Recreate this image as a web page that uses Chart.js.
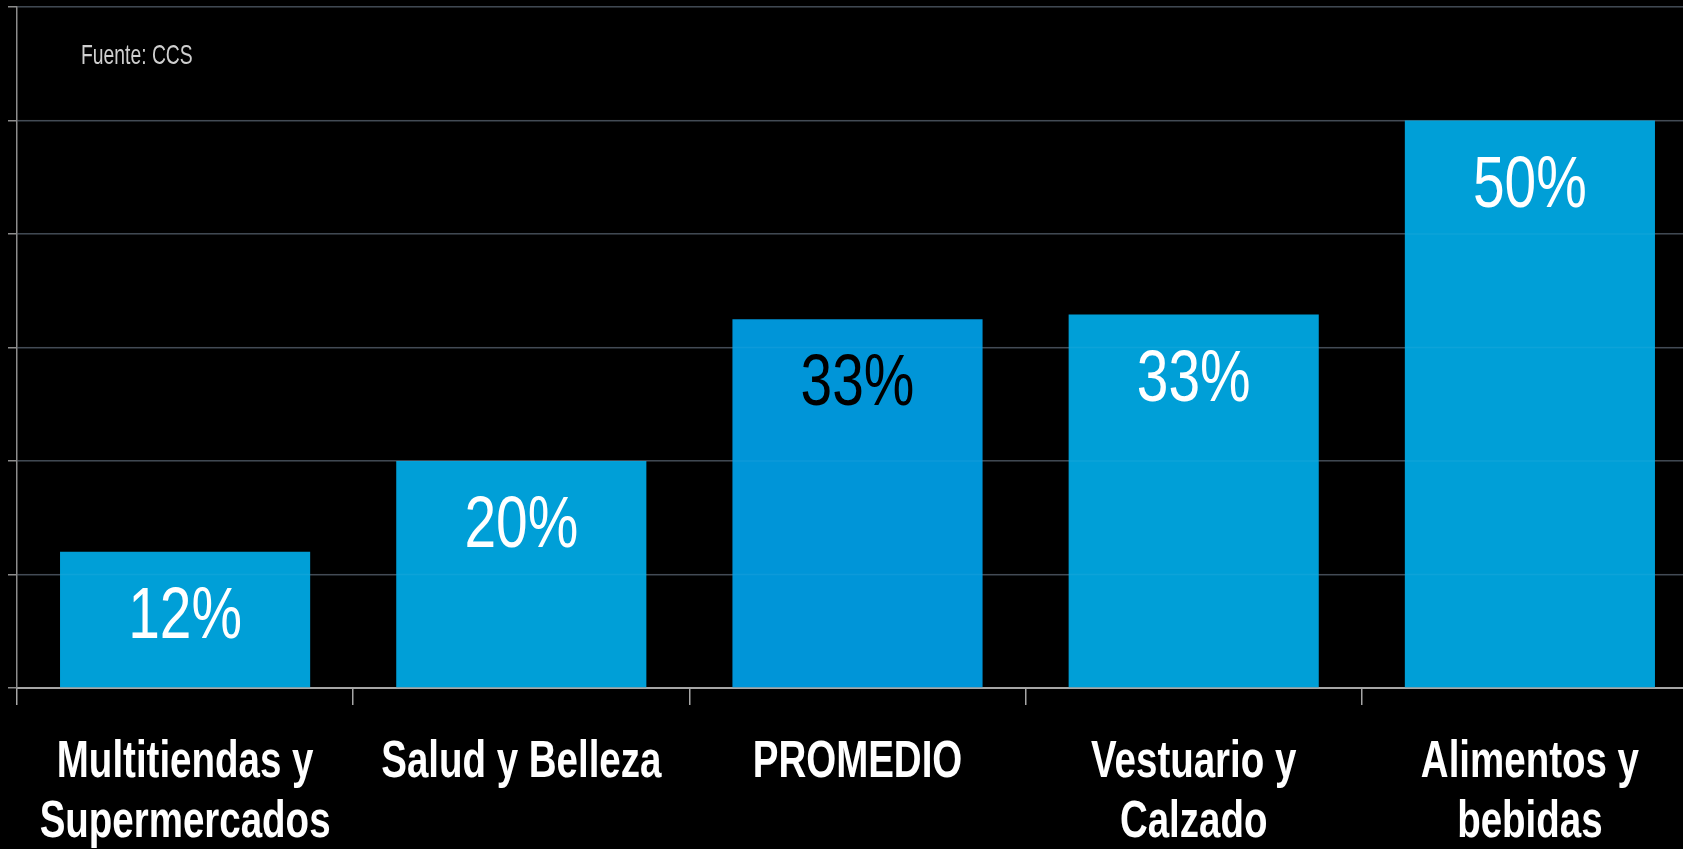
<!DOCTYPE html>
<html>
<head>
<meta charset="utf-8">
<script src="https://cdn.jsdelivr.net/npm/chart.js@4/dist/chart.umd.min.js"></script>
<style>
  html, body { margin: 0; padding: 0; background: #000; overflow: hidden; }
  body { width: 1683px; height: 849px; position: relative; }
  #chart { position: absolute; left: 0; top: 0; }
  #fuente {
    position: absolute; left: 81px; top: 41px;
    font-family: "Liberation Sans", sans-serif;
    font-size: 28px; line-height: 28px; color: #cfcfcf;
    transform: scaleX(0.69); transform-origin: 0 0; white-space: nowrap;
  }
</style>
</head>
<body>
<canvas id="chart" width="1698" height="849"></canvas>
<div id="fuente">Fuente: CCS</div>
<script>
// categories and values
const categories = [
    ["Multitiendas y", "Supermercados"],
    ["Salud y Belleza"],
    ["PROMEDIO"],
    ["Vestuario y", "Calzado"],
    ["Alimentos y", "bebidas"]
];
const values = [12, 20, 32.5, 32.9, 50];
const valueLabels = ["12%", "20%", "33%", "33%", "50%"];
const barColors = ["#009fd7", "#009fd7", "#0095d8", "#009fd7", "#009fd7"];
const labelColors = ["#ffffff", "#ffffff", "#000000", "#ffffff", "#ffffff"];

const family = '"Liberation Sans", Arial, sans-serif';

// draws text squeezed horizontally to mimic the condensed face of the original
function narrowText(ctx, text, x, y, sx) {
    ctx.save();
    ctx.translate(x, y);
    ctx.scale(sx, 1);
    ctx.fillText(text, 0, 0);
    ctx.restore();
}

// faint gridlines showing through the bars, then the percentages
const barLabels = {
    id: 'barLabels',
    afterDatasetsDraw(chart) {
        const ctx = chart.ctx;
        const area = chart.chartArea;
        const yScale = chart.scales.y;
        ctx.save();
        ctx.strokeStyle = 'rgba(255,255,255,0.05)';
        ctx.lineWidth = 1.5;
        yScale.ticks.forEach((t, i) => {
            if (t.value === 0) return;
            const y = yScale.getPixelForTick(i);
            ctx.beginPath();
            ctx.moveTo(area.left, y);
            ctx.lineTo(area.right, y);
            ctx.stroke();
        });

        const meta = chart.getDatasetMeta(0);
        ctx.font = '72px ' + family;
        ctx.textAlign = 'center';
        ctx.textBaseline = 'alphabetic';
        meta.data.forEach((bar, i) => {
            ctx.fillStyle = labelColors[i];
            narrowText(ctx, valueLabels[i], bar.x, bar.y + 86, 0.79);
        });
        ctx.restore();
    }
};

// category names under the x axis, centred on each category
const categoryLabels = {
    id: 'categoryLabels',
    afterDraw(chart) {
        const ctx = chart.ctx;
        const xScale = chart.scales.x;
        ctx.save();
        ctx.font = 'bold 52px ' + family;
        ctx.fillStyle = '#ffffff';
        ctx.textAlign = 'center';
        ctx.textBaseline = 'alphabetic';
        categories.forEach((lines, i) => {
            const x = xScale.getPixelForTick(i);
            lines.forEach((line, j) => {
                narrowText(ctx, line, x, xScale.top + 89 + j * 60, 0.74);
            });
        });
        ctx.restore();
    }
};

const ctx = document.getElementById('chart').getContext('2d');
new Chart(ctx, {
    type: 'bar',
    data: {
        labels: categories.map(c => c.join(' ')),
        datasets: [{
            data: values,
            backgroundColor: barColors,
            borderWidth: 0,
            barPercentage: 0.744,
            categoryPercentage: 1
        }]
    },
    options: {
        responsive: false,
        animation: false,
        devicePixelRatio: 1,
        layout: { padding: { left: 8, top: 7, right: 0, bottom: 0 } },
        plugins: {
            legend: { display: false },
            tooltip: { enabled: false }
        },
        scales: {
            x: {
                grid: {
                    drawOnChartArea: false,
                    drawTicks: true,
                    tickLength: 17,
                    color: '#a6a6a6',
                    lineWidth: 1.5
                },
                border: { display: true, color: '#a6a6a6', width: 2 },
                ticks: { display: false },
                afterFit(scale) {
                    scale.height = 161;
                    scale.paddingLeft = 0;
                    scale.paddingRight = 0;
                }
            },
            y: {
                min: 0,
                max: 60,
                ticks: { display: false, stepSize: 10 },
                grid: {
                    color: '#39424c',
                    lineWidth: 1.5,
                    drawTicks: true,
                    tickLength: 9,
                    tickColor: '#8c8c8c'
                },
                border: { display: true, color: '#8c8c8c', width: 1.5 }
            }
        }
    },
    plugins: [barLabels, categoryLabels]
});
</script>
</body>
</html>
